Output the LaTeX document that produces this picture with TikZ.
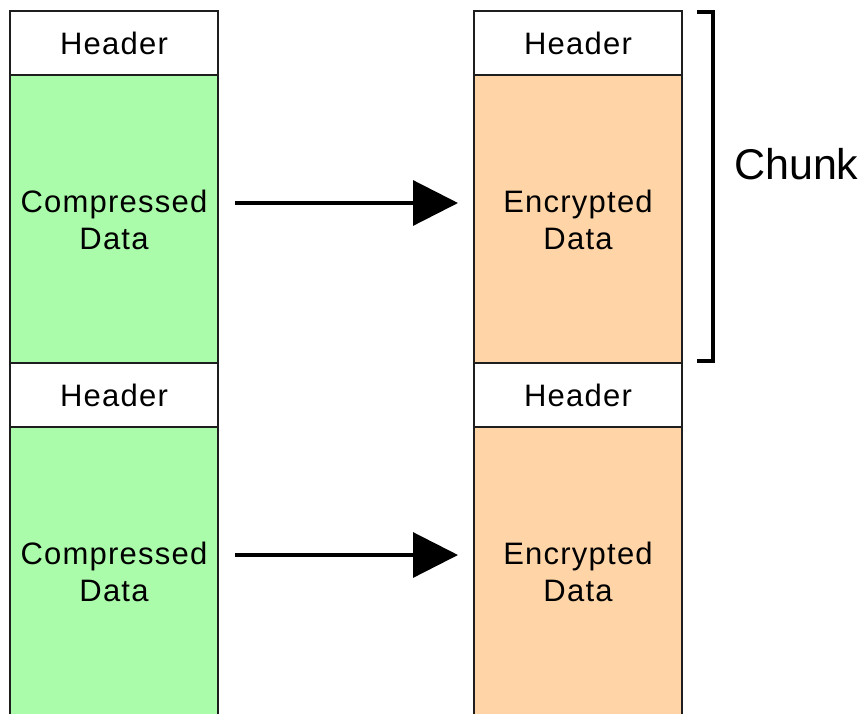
\documentclass[tikz,border=0pt]{standalone}
\usepackage{fontspec}
\setmainfont{Liberation Sans}
\newfontfamily\boxfont[LetterSpace=4]{Liberation Sans}
\usetikzlibrary{arrows.meta}
\definecolor{compgreen}{RGB}{170,251,170}
\definecolor{encorange}{RGB}{255,213,168}
\definecolor{edge}{RGB}{30,30,30}
\tikzset{
  cell/.style={draw=edge, line width=1.6pt, minimum width=208pt, inner sep=0pt,
    align=center, font=\boxfont\fontsize{31}{37}\selectfont},
  headcell/.style={cell, fill=white, minimum height=64pt},
  compcell/.style={cell, fill=compgreen, minimum height=288pt},
  enccell/.style={cell, fill=encorange, minimum height=288pt},
  flow/.style={line width=3.2pt, -{Triangle[length=45pt,width=45pt]}},
  brace/.style={line width=4.5pt}
}
\begin{document}
\begin{tikzpicture}[x=1pt,y=-1pt]
\useasboundingbox (0,0) rectangle (861,713);
\clip (0,0) rectangle (861,713);
% compressed column
\node[compcell] (c1) at (114,219.5) {Compressed\\Data};
\node[headcell] (h1) at (114,43) {Header};
\node[compcell] (c2) at (114,571.5) {Compressed\\Data};
\node[headcell] (h2) at (114,395) {Header};
% encrypted column
\node[enccell] (e1) at (578,219.5) {Encrypted\\Data};
\node[headcell] (k1) at (578,43) {Header};
\node[enccell] (e2) at (578,571.5) {Encrypted\\Data};
\node[headcell] (k2) at (578,395) {Header};
% conversion arrows
\coordinate (a1s) at (235,203);
\coordinate (a1e) at (458,203);
\coordinate (a2s) at (235,555);
\coordinate (a2e) at (458,555);
\draw[flow] (a1s) -- (a1e);
\draw[flow] (a2s) -- (a2e);
% bracket around one chunk
\coordinate (bt) at (713,12);
\coordinate (bb) at (713,361);
\draw[brace] ([xshift=-16pt]bt) -- (bt) -- (bb) -- ([xshift=-16pt]bb);
\node[anchor=base west, inner sep=0pt, font=\fontsize{43}{50}\selectfont] (chunk) at (734,179) {Chunk};
\end{tikzpicture}
\end{document}
